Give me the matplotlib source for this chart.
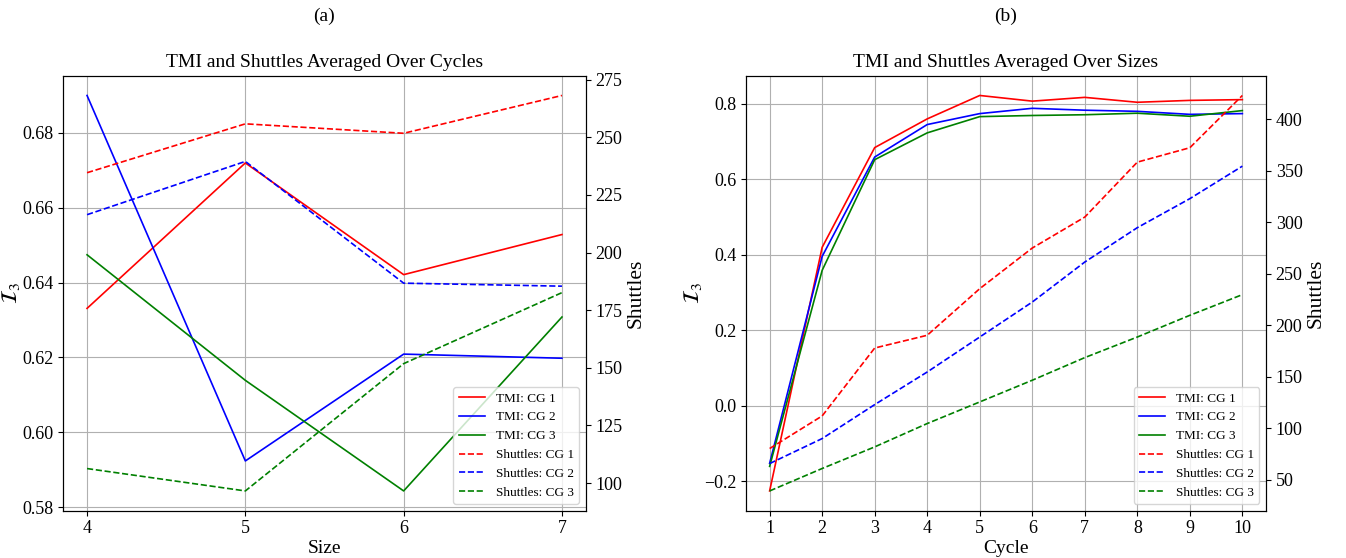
import matplotlib
matplotlib.use("Agg")
import matplotlib.pyplot as plt

plt.rcParams['font.family'] = ['Liberation Serif', 'DejaVu Serif']
plt.rcParams['mathtext.fontset'] = 'stix'

# ---- data: averaged over cycles (x = size) ----
sizes = [4, 5, 6, 7]
tmi_size_cg1 = [0.6331, 0.6719, 0.6421, 0.6528]
tmi_size_cg2 = [0.6899, 0.5924, 0.6209, 0.6198]
tmi_size_cg3 = [0.6474, 0.6139, 0.5844, 0.6308]
sh_size_cg1 = [234.6, 255.8, 251.7, 268.1]
sh_size_cg2 = [216.4, 239.5, 186.7, 185.4]
sh_size_cg3 = [106.3, 96.6, 151.8, 182.6]

# ---- data: averaged over sizes (x = cycle) ----
cycles = [1, 2, 3, 4, 5, 6, 7, 8, 9, 10]
tmi_cyc_cg1 = [-0.225, 0.420, 0.684, 0.760, 0.822, 0.807, 0.817, 0.804, 0.809, 0.811]
tmi_cyc_cg2 = [-0.152, 0.396, 0.659, 0.745, 0.774, 0.788, 0.783, 0.780, 0.772, 0.774]
tmi_cyc_cg3 = [-0.160, 0.359, 0.652, 0.723, 0.766, 0.769, 0.771, 0.775, 0.767, 0.782]
sh_cyc_cg1 = [80.1, 111.8, 177.8, 190.2, 235.5, 275.0, 305.1, 358.5, 372.5, 423.3]
sh_cyc_cg2 = [65.5, 89.8, 122.8, 154.5, 188.5, 222.5, 261.4, 294.8, 323.0, 354.6]
sh_cyc_cg3 = [38.9, 60.7, 81.7, 104.4, 125.4, 146.5, 168.5, 188.5, 209.6, 229.7]

cg_labels = ["CG 1", "CG 2", "CG 3"]
colors = ["red", "blue", "green"]

W, H = 1346, 558
fig = plt.figure(figsize=(W / 100, H / 100), dpi=100)

panels = [
    dict(rect=[63.3 / W, 1 - 510.7 / H, 522.4 / W, 435 / H], x=sizes,
         tmi=[tmi_size_cg1, tmi_size_cg2, tmi_size_cg3],
         sh=[sh_size_cg1, sh_size_cg2, sh_size_cg3],
         title="TMI and Shuttles Averaged Over Cycles", xlabel="Size", tag="(a)"),
    dict(rect=[746 / W, 1 - 510.7 / H, 520 / W, 435 / H], x=cycles,
         tmi=[tmi_cyc_cg1, tmi_cyc_cg2, tmi_cyc_cg3],
         sh=[sh_cyc_cg1, sh_cyc_cg2, sh_cyc_cg3],
         title="TMI and Shuttles Averaged Over Sizes", xlabel="Cycle", tag="(b)"),
]

lw = 1.2
for p in panels:
    ax = fig.add_axes(p["rect"])
    ax2 = ax.twinx()
    handles = []
    for vals, c, lab in zip(p["tmi"], colors, cg_labels):
        h, = ax.plot(p["x"], vals, color=c, lw=lw, label=f"TMI: {lab}")
        handles.append(h)
    for vals, c, lab in zip(p["sh"], colors, cg_labels):
        h, = ax2.plot(p["x"], vals, color=c, lw=lw, ls="--", label=f"Shuttles: {lab}")
        handles.append(h)
    ax.set_xticks(p["x"])
    ax.grid(True, color="#b0b0b0", lw=0.8)
    ax.set_title(p["title"], fontsize=14)
    ax.set_xlabel(p["xlabel"], fontsize=14, labelpad=2)
    ax.set_ylabel(r"$\mathcal{I}_3$", fontsize=16, labelpad=0)
    ax2.set_ylabel("Shuttles", fontsize=15.5, labelpad=3)
    ax.tick_params(labelsize=13)
    ax2.tick_params(labelsize=13)
    ax2.legend(handles=handles, loc="lower right", fontsize=9.5)
    r = p["rect"]
    fig.text(r[0] + r[2] / 2, 1 - 16 / H, p["tag"], ha="center", va="center", fontsize=14)

fig.savefig("out.png", dpi=100)
